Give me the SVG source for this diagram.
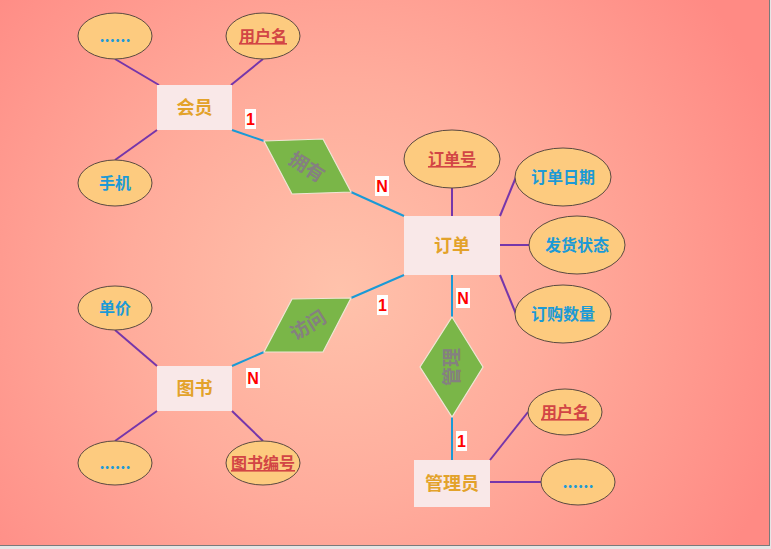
<svg xmlns="http://www.w3.org/2000/svg" width="771" height="549" viewBox="0 0 771 549">
<defs>
<radialGradient id="bg" cx="340" cy="290" r="470" gradientUnits="userSpaceOnUse">
<stop offset="0" stop-color="#ffc2ab"/>
<stop offset="0.45" stop-color="#ffac9c"/>
<stop offset="1" stop-color="#ff8a84"/>
</radialGradient>
</defs>
<style>
.ent{fill:#f9e8e8}
.entt{font-family:"Noto Sans CJK SC",sans-serif;font-weight:bold;font-size:18px;fill:#e3a22a;text-anchor:middle}
.att{fill:#fdcb7f;stroke:#5a4a40;stroke-width:1}
.attt{font-family:"Noto Sans CJK SC",sans-serif;font-weight:bold;font-size:16px;fill:#1c9ad6;text-anchor:middle}
.key{font-family:"Noto Sans CJK SC",sans-serif;font-weight:bold;font-size:16px;fill:#d24545;text-anchor:middle;text-decoration:underline}
.rel{fill:#7ab648;stroke:#efe6d6;stroke-width:1.2}
.relt{font-family:"Noto Sans CJK SC",sans-serif;font-weight:bold;font-size:19px;fill:#858080;text-anchor:middle}
.pl{stroke:#7636aa;stroke-width:2;fill:none}
.bl{stroke:#1a9ad6;stroke-width:2;fill:none}
.lb{fill:#ffffff}
.lbt{font-family:"Liberation Sans",Arial,sans-serif;font-weight:bold;font-size:16px;fill:#ff0000;text-anchor:middle}
</style>
<rect x="0" y="0" width="771" height="549" fill="#e6e6e6"/>
<rect x="0" y="0" width="769" height="545" fill="url(#bg)"/>
<line x1="0" y1="545.5" x2="770" y2="545.5" stroke="#7a7a7a" stroke-width="1"/>
<line x1="769.5" y1="0" x2="769.5" y2="546" stroke="#7a7a7a" stroke-width="1"/>

<g id="connectors">
<line class="pl" x1="115" y1="59" x2="159" y2="85"/>
<line class="pl" x1="263" y1="59" x2="231" y2="85"/>
<line class="pl" x1="157" y1="130" x2="115" y2="160"/>
<line class="bl" x1="232" y1="130" x2="264" y2="141"/>
<line class="bl" x1="351" y1="192" x2="404" y2="216"/>
<line class="pl" x1="452" y1="188" x2="452" y2="216"/>
<line class="pl" x1="500" y1="216" x2="516" y2="177"/>
<line class="pl" x1="500" y1="245" x2="529" y2="245"/>
<line class="pl" x1="500" y1="275" x2="516" y2="314"/>
<line class="pl" x1="115" y1="330" x2="157" y2="366"/>
<line class="pl" x1="157" y1="411" x2="115" y2="441"/>
<line class="pl" x1="232" y1="411" x2="263" y2="441"/>
<line class="bl" x1="232" y1="366" x2="264" y2="352"/>
<line class="bl" x1="351" y1="298" x2="404" y2="275"/>
<line class="bl" x1="452" y1="275" x2="452" y2="317"/>
<line class="bl" x1="452" y1="417" x2="452" y2="460"/>
<line class="pl" x1="490" y1="460" x2="528" y2="412"/>
<line class="pl" x1="490" y1="482" x2="541" y2="482"/>
<rect class="lb" x="245" y="109" width="11" height="20"/>
<text class="lbt" x="250.5" y="125">1</text>
<rect class="lb" x="375" y="176" width="14" height="20"/>
<text class="lbt" x="382" y="192">N</text>
<rect class="lb" x="377" y="295" width="11" height="20"/>
<text class="lbt" x="382.5" y="311">1</text>
<rect class="lb" x="246" y="368" width="14" height="20"/>
<text class="lbt" x="253" y="384">N</text>
<rect class="lb" x="456" y="288" width="14" height="20"/>
<text class="lbt" x="463" y="304">N</text>
<rect class="lb" x="456" y="431" width="11" height="20"/>
<text class="lbt" x="461.5" y="447">1</text>
</g>

<g id="attr-huiyuan-more"><ellipse class="att" cx="115" cy="36" rx="37" ry="23"/><text class="attt" x="115" y="42">......</text></g>
<g id="attr-huiyuan-name"><ellipse class="att" cx="263" cy="36" rx="37" ry="23"/><text class="key" x="263" y="42">用户名</text></g>
<g id="attr-phone"><ellipse class="att" cx="115" cy="183" rx="37" ry="23"/><text class="attt" x="115" y="189">手机</text></g>
<g id="ent-huiyuan"><rect class="ent" x="157" y="85" width="75" height="45"/><text class="entt" x="194.5" y="114">会员</text></g>

<g id="rel-yongyou"><polygon class="rel" points="264,141 323,139 351,192 292,194"/><text class="relt" transform="translate(307,167) rotate(32)" x="0" y="7">拥有</text></g>

<g id="attr-order-no"><ellipse class="att" cx="452" cy="159" rx="48" ry="29"/><text class="key" x="452" y="165">订单号</text></g>
<g id="attr-order-date"><ellipse class="att" cx="563" cy="177" rx="48" ry="29"/><text class="attt" x="563" y="183">订单日期</text></g>
<g id="attr-ship"><ellipse class="att" cx="577" cy="245" rx="48" ry="29"/><text class="attt" x="577" y="251">发货状态</text></g>
<g id="attr-qty"><ellipse class="att" cx="563" cy="314" rx="48" ry="29"/><text class="attt" x="563" y="320">订购数量</text></g>
<g id="ent-order"><rect class="ent" x="404" y="216" width="96" height="59"/><text class="entt" x="452" y="252">订单</text></g>

<g id="attr-price"><ellipse class="att" cx="115" cy="308" rx="37" ry="22"/><text class="attt" x="115" y="314">单价</text></g>
<g id="attr-book-more"><ellipse class="att" cx="115" cy="463" rx="37" ry="22"/><text class="attt" x="115" y="469">......</text></g>
<g id="attr-book-no"><ellipse class="att" cx="263" cy="463" rx="37" ry="22"/><text class="key" x="263" y="469">图书编号</text></g>
<g id="ent-book"><rect class="ent" x="157" y="366" width="75" height="45"/><text class="entt" x="194.5" y="395">图书</text></g>

<g id="rel-fangwen"><polygon class="rel" points="292,299 351,298 323,352 264,352"/><text class="relt" transform="translate(308,325) rotate(-32)" x="0" y="7">访问</text></g>

<g id="rel-guanli"><polygon class="rel" points="452,317 483,367 452,417 420,367"/><text class="relt" transform="translate(452,367) rotate(-90)" x="0" y="7">管理</text></g>

<g id="attr-admin-name"><ellipse class="att" cx="565" cy="412" rx="37" ry="23"/><text class="key" x="565" y="418">用户名</text></g>
<g id="attr-admin-more"><ellipse class="att" cx="578" cy="482" rx="37" ry="23"/><text class="attt" x="578" y="488">......</text></g>
<g id="ent-admin"><rect class="ent" x="414" y="460" width="76" height="47"/><text class="entt" x="452" y="490">管理员</text></g>
</svg>
